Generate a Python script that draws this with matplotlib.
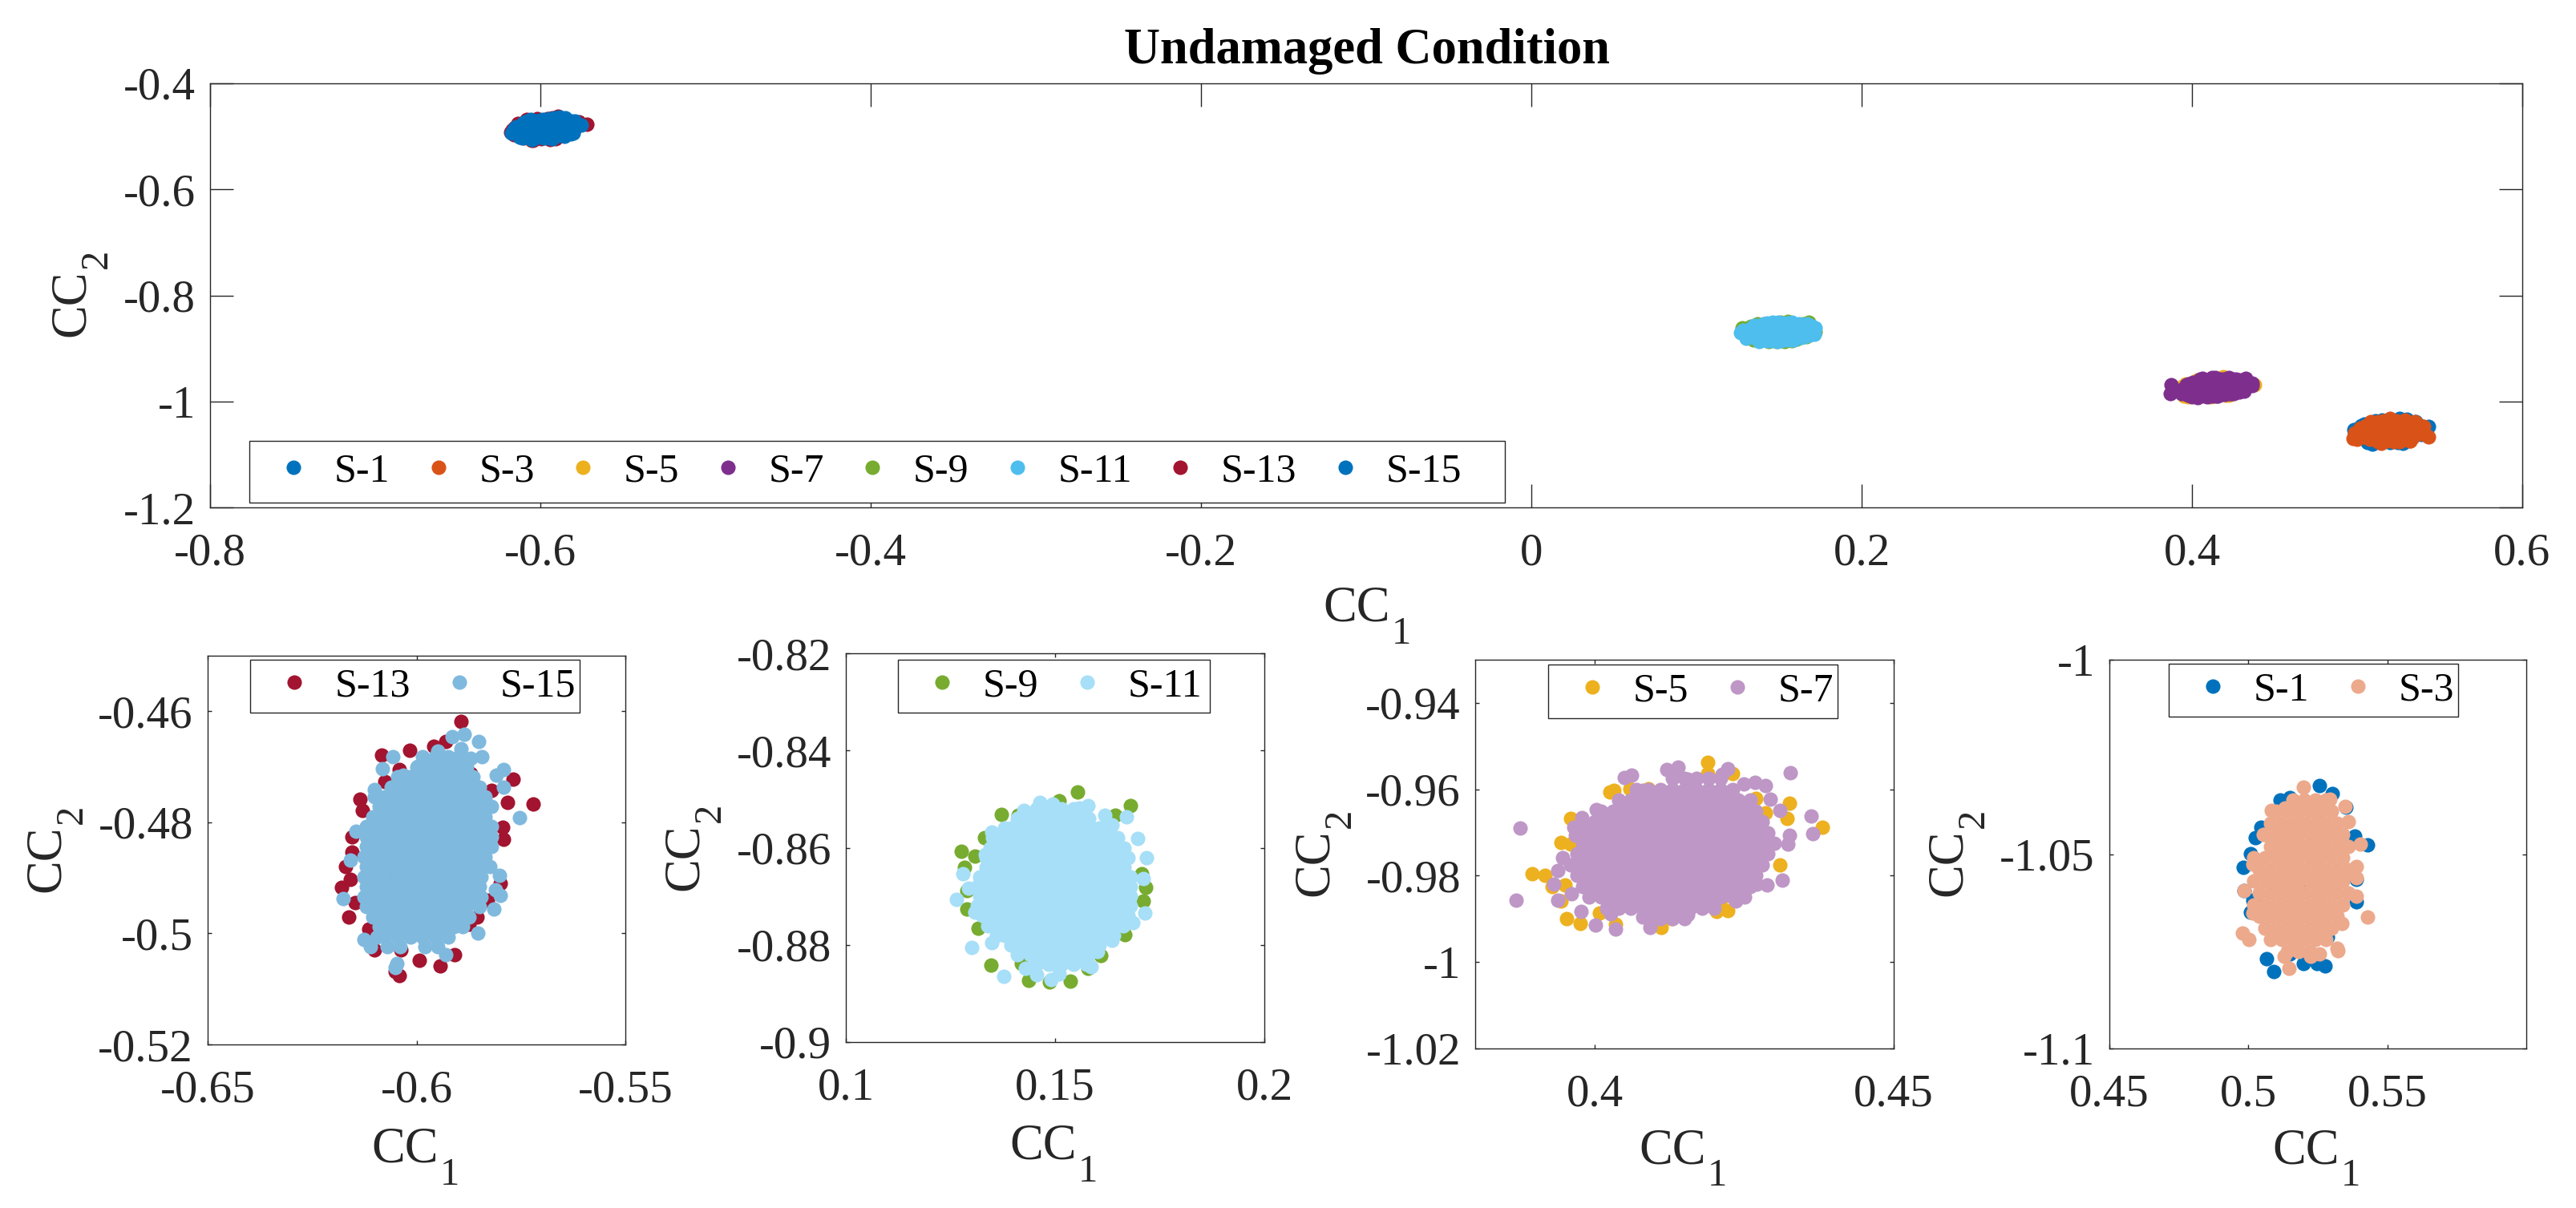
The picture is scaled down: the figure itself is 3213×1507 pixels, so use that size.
import numpy as np
import matplotlib
matplotlib.use('Agg')
import matplotlib.pyplot as plt
from matplotlib.patches import Rectangle

plt.rcParams['font.family'] = ['Liberation Serif', 'DejaVu Serif']
plt.rcParams['axes.unicode_minus'] = False

# values: rows of (CC2, [CC1 ...]) for the dense core, then single points at the rim
s15_rows = [
    (-.4682, [-.5985, -.5955, -.5925, -.590]),
    (-.4700, [-.600, -.597, -.594, -.591, -.588]),
    (-.4718, [-.6045, -.6015, -.5985, -.5955, -.5925, -.5895, -.5865]),
    (-.4736, [-.606, -.603, -.600, -.597, -.594, -.591, -.588, -.585]),
    (-.4754, [-.610, -.6075, -.6045, -.6015, -.5985, -.5955, -.5925, -.5895, -.5865, -.5835]),
    (-.4772, [-.609, -.606, -.603, -.600, -.597, -.594, -.591, -.588, -.585, -.582]),
    (-.4790, [-.6105, -.6075, -.6045, -.6015, -.5985, -.5955, -.5925, -.5895, -.5865, -.5835]),
    (-.4808, [-.612, -.609, -.606, -.603, -.600, -.597, -.594, -.591, -.588, -.585, -.582]),
    (-.4826, [-.612, -.6105, -.6075, -.6045, -.6015, -.5985, -.5955, -.5925, -.5895, -.5865, -.5835, -.582]),
    (-.4844, [-.612, -.609, -.606, -.603, -.600, -.597, -.594, -.591, -.588, -.585, -.582]),
    (-.4862, [-.6125, -.6105, -.6075, -.6045, -.6015, -.5985, -.5955, -.5925, -.5895, -.5865, -.5835]),
    (-.4880, [-.612, -.609, -.606, -.603, -.600, -.597, -.594, -.591, -.588, -.585, -.5825]),
    (-.4898, [-.6125, -.6105, -.6075, -.6045, -.6015, -.5985, -.5955, -.5925, -.5895, -.5865, -.5845]),
    (-.4916, [-.612, -.609, -.606, -.603, -.600, -.597, -.594, -.591, -.588, -.585]),
    (-.4934, [-.6125, -.6105, -.6075, -.6045, -.6015, -.5985, -.5955, -.5925, -.5895, -.5865, -.5845]),
    (-.4952, [-.612, -.609, -.606, -.603, -.600, -.597, -.594, -.591, -.588, -.585]),
    (-.4970, [-.6105, -.6075, -.6045, -.6015, -.5985, -.5955, -.5925, -.5895, -.5875]),
    (-.4988, [-.609, -.606, -.603, -.600, -.597, -.594, -.591, -.589]),
    (-.5006, [-.6095, -.6075, -.6045, -.6015, -.5985, -.5955, -.5925]),
    (-.5024, [-.607, -.604, -.598, -.595]),
]
s15_rim = [(-.5914, -.4646), (-.5885, -.4642), (-.5851, -.4655), (-.5792, -.4705), (-.5809, -.4715), (-.5792, -.4737),
           (-.5753, -.4791), (-.5844, -.4682), (-.5870, -.4685), (-.6056, -.4682), (-.6081, -.4704), (-.6100, -.4741),
           (-.6145, -.4816), (-.6159, -.4868), (-.6176, -.4937), (-.5802, -.4895), (-.5811, -.4922), (-.5799, -.4932),
           (-.5814, -.4956), (-.5854, -.4999), (-.6125, -.5011), (-.6110, -.5024), (-.6047, -.5054), (-.6051, -.5061),
           (-.5929, -.5038), (-.5949, -.4672), (-.5893, -.4668), (-.5998, -.4699), (-.6032, -.4715)]
s13_rows = [(-.480, [-.606, -.592]), (-.485, [-.600]), (-.490, [-.605, -.590]), (-.495, [-.598])]
s13_rim = [(-.5893, -.4618), (-.5958, -.4663), (-.5929, -.4655), (-.6017, -.4671), (-.6083, -.4679), (-.6042, -.4705),
           (-.6076, -.4726), (-.6135, -.4759), (-.6130, -.4779), (-.6154, -.4826), (-.6154, -.4853), (-.6169, -.4880),
           (-.6159, -.4903), (-.6179, -.4917), (-.6146, -.4945), (-.6162, -.4970), (-.6115, -.4992), (-.6100, -.5030),
           (-.6037, -.5030), (-.6051, -.5068), (-.6042, -.5076), (-.5993, -.5048), (-.5944, -.5058), (-.5909, -.5038),
           (-.5875, -.4984), (-.5856, -.4970), (-.5831, -.4940), (-.5800, -.4910), (-.5792, -.4830), (-.5794, -.4809),
           (-.5821, -.4742), (-.5782, -.4764), (-.5720, -.4767), (-.5769, -.4722), (-.5870, -.4712)]

s11_rows = [
    (-.852, [.1455, .1485, .1515, .1545]),
    (-.854, [.141, .144, .147, .150, .153, .156, .158]),
    (-.856, [.138, .1395, .1425, .1455, .1485, .1515, .1545, .1575, .1605, .1625]),
    (-.858, [.135, .138, .141, .144, .147, .150, .153, .156, .159, .162, .165]),
    (-.860, [.1345, .1365, .1395, .1425, .1455, .1485, .1515, .1545, .1575, .1605, .1635, .1665]),
    (-.862, [.1335, .135, .138, .141, .144, .147, .150, .153, .156, .159, .162, .165, .1675]),
    (-.864, [.1335, .1365, .1395, .1425, .1455, .1485, .1515, .1545, .1575, .1605, .1635, .1665]),
    (-.866, [.132, .135, .138, .141, .144, .147, .150, .153, .156, .159, .162, .165, .168]),
    (-.868, [.1315, .1335, .1365, .1395, .1425, .1455, .1485, .1515, .1545, .1575, .1605, .1635, .1665, .168]),
    (-.870, [.132, .135, .138, .141, .144, .147, .150, .153, .156, .159, .162, .165, .168]),
    (-.872, [.1315, .1335, .1365, .1395, .1425, .1455, .1485, .1515, .1545, .1575, .1605, .1635, .1665, .168]),
    (-.874, [.1325, .135, .138, .141, .144, .147, .150, .153, .156, .159, .162, .165, .1675]),
    (-.876, [.134, .1365, .1395, .1425, .1455, .1485, .1515, .1545, .1575, .1605, .1635, .1663]),
    (-.878, [.136, .138, .141, .144, .147, .150, .153, .156, .159, .162, .164]),
    (-.880, [.1395, .1425, .1455, .1485, .1515, .1545, .1575, .1605]),
    (-.882, [.141, .144, .147, .150, .153, .156, .158]),
    (-.884, [.1455, .1485, .1515, .1545, .1575]),
]
s11_rim = [(.1265, -.8707), (.1280, -.8653), (.1301, -.8806), (.1377, -.8864), (.1348, -.8568), (.1426, -.8524),
           (.1463, -.8507), (.1495, -.8510), (.1578, -.8514), (.1558, -.8518), (.1619, -.8534), (.1671, -.8537),
           (.1636, -.8553), (.1698, -.8581), (.1719, -.8620), (.1710, -.8664), (.1715, -.8735), (.1685, -.8755),
           (.1636, -.8791), (.1602, -.8814), (.1587, -.8845), (.1490, -.8839), (.1490, -.8872), (.1456, -.8862),
           (.1429, -.8849), (.1509, -.8860), (.1348, -.8795), (.1294, -.8683), (.1309, -.8733), (.1333, -.8614)]
s9_rows = [(-.860, [.145, .155]), (-.868, [.140, .150, .160]), (-.876, [.145, .155])]
s9_rim = [(.1553, -.8485), (.1680, -.8514), (.1371, -.8531), (.1509, -.8503), (.1412, -.8534), (.1644, -.8534),
          (.1331, -.8580), (.1276, -.8608), (.1309, -.8617), (.1284, -.8641), (.1289, -.8689), (.1289, -.8727),
          (.1316, -.8766), (.1346, -.8841), (.1419, -.8839), (.1436, -.8873), (.1536, -.8874), (.1487, -.8876),
          (.1578, -.8849), (.1609, -.8822), (.1666, -.8779), (.1710, -.8709), (.1717, -.8681), (.1707, -.8653)]

s7_rows = [
    (-.9575, [.413, .415, .417, .419, .421]),
    (-.9600, [.407, .409, .411, .413, .415, .417, .419, .421, .423]),
    (-.9625, [.404, .406, .408, .410, .412, .414, .416, .418, .420, .422, .424, .426]),
    (-.9650, [.401, .403, .405, .407, .409, .411, .413, .415, .417, .419, .421, .423, .425, .427]),
    (-.9675, [.398, .400, .402, .404, .406, .408, .410, .412, .414, .416, .418, .420, .422, .424, .426, .428]),
    (-.9700, [.397, .399, .401, .403, .405, .407, .409, .411, .413, .415, .417, .419, .421, .423, .425, .427, .429]),
    (-.9725, [.398, .400, .402, .404, .406, .408, .410, .412, .414, .416, .418, .420, .422, .424, .426, .428, .430]),
    (-.9750, [.397, .399, .401, .403, .405, .407, .409, .411, .413, .415, .417, .419, .421, .423, .425, .427, .429]),
    (-.9775, [.396, .398, .400, .402, .404, .406, .408, .410, .412, .414, .416, .418, .420, .422, .424, .426, .428]),
    (-.9800, [.397, .399, .401, .403, .405, .407, .409, .411, .413, .415, .417, .419, .421, .423, .425, .427]),
    (-.9825, [.398, .400, .402, .404, .406, .408, .410, .412, .414, .416, .418, .420, .422, .424, .426]),
    (-.9850, [.399, .401, .403, .405, .407, .409, .411, .413, .415, .417, .419, .421, .423, .425]),
    (-.9875, [.402, .404, .406, .408, .410, .412, .414, .416, .418, .420]),
    (-.9900, [.409, .411, .413, .415]),
]
s7_rim = [(.3875, -.9689), (.3868, -.9857), (.4327, -.9562), (.4362, -.9661), (.4365, -.9702), (.4326, -.9706),
          (.4323, -.9727), (.4314, -.9810), (.4288, -.9822), (.4271, -.9820), (.4236, -.9859), (.4035, -.9923),
          (.4001, -.9915), (.4093, -.9920), (.4027, -.9888), (.3977, -.9882), (.3938, -.9857), (.3961, -.9842),
          (.3931, -.9819), (.3938, -.9788), (.3946, -.9759), (.3967, -.9706), (.3965, -.9688), (.3979, -.9665),
          (.4003, -.9647), (.4049, -.9573), (.4061, -.9567), (.4121, -.9555), (.4139, -.9548), (.4222, -.9553),
          (.4213, -.9566), (.4249, -.9587), (.4268, -.9583), (.4285, -.9592), (.4294, -.9622), (.4309, -.9649),
          (.4080, -.9602), (.4155, -.9576), (.4155, -.9891), (.4080, -.9895)]
s5_rows = [(-.970, [.405, .415, .425]), (-.975, [.410, .420]), (-.980, [.405, .415])]
s5_rim = [(.4381, -.9688), (.4189, -.9537), (.4189, -.9563), (.4230, -.9563), (.3895, -.9796), (.3916, -.9800),
          (.3943, -.9723), (.3960, -.9727), (.3960, -.9668), (.4025, -.9606), (.4032, -.9602), (.4270, -.9621),
          (.4325, -.9632), (.4321, -.9668), (.4309, -.9775), (.4251, -.9831), (.4210, -.9857), (.4203, -.9882),
          (.4222, -.9880), (.4111, -.9920), (.4128, -.9900), (.4035, -.9913), (.4008, -.9887), (.3953, -.9900),
          (.3976, -.9911), (.3943, -.9859), (.3950, -.9822), (.3929, -.9826), (.4285, -.9654), (.4059, -.9598),
          (.4090, -.9598)]

s3_rows = [
    (-1.036, [.516, .520, .524, .528]),
    (-1.039, [.510, .514, .518, .522, .526, .530]),
    (-1.042, [.508, .512, .516, .520, .524, .528, .532]),
    (-1.045, [.506, .510, .514, .518, .522, .526, .530, .534]),
    (-1.048, [.508, .512, .516, .520, .524, .528, .532, .536]),
    (-1.051, [.502, .506, .510, .514, .518, .522, .526, .530, .534]),
    (-1.054, [.504, .508, .512, .516, .520, .524, .528, .532, .536]),
    (-1.057, [.502, .506, .510, .514, .518, .522, .526, .530, .534]),
    (-1.060, [.504, .508, .512, .516, .520, .524, .528, .532, .536]),
    (-1.063, [.502, .506, .510, .514, .518, .522, .526, .530, .534]),
    (-1.066, [.504, .508, .512, .516, .520, .524, .528, .532]),
    (-1.069, [.506, .510, .514, .518, .522, .526, .530]),
    (-1.072, [.508, .512, .516, .520, .524, .528]),
    (-1.075, [.514, .518, .522]),
]
s3_rim = [(.5198, -1.0328), (.5292, -1.0358), (.5349, -1.0378), (.5083, -1.0387), (.5132, -1.0382), (.5188, -1.0368),
          (.5053, -1.0450), (.5404, -1.0474), (.5389, -1.0531), (.5389, -1.0560), (.5389, -1.0608), (.5430, -1.0662),
          (.4986, -1.0594), (.5016, -1.0651), (.5337, -1.0678), (.4978, -1.0704), (.5001, -1.0719), (.5319, -1.0743),
          (.5322, -1.0749), (.5146, -1.0793), (.5128, -1.0762), (.5225, -1.0762), (.5255, -1.0757), (.5016, -1.0526),
          (.5360, -1.0416)]
s1_rows = [(-1.050, [.515, .525]), (-1.057, [.510, .520, .530]), (-1.065, [.515, .525])]
s1_rim = [(.5255, -1.0323), (.5303, -1.0344), (.5113, -1.0361), (.5150, -1.0354), (.5352, -1.0379), (.5046, -1.0430),
          (.5026, -1.0457), (.5008, -1.0498), (.4983, -1.0534), (.4986, -1.0594), (.5008, -1.0649), (.5430, -1.0476),
          (.5389, -1.0622), (.5389, -1.0565), (.5064, -1.0769), (.5090, -1.0803), (.5198, -1.0781), (.5247, -1.0781),
          (.5277, -1.0788), (.5285, -1.0714), (.5150, -1.0757), (.5382, -1.0454), (.5016, -1.0618)]

# colours of the big panel and the lighter ones of the small panels
c_s1, c_s3, c_s5, c_s7 = '#0072BD', '#D95319', '#EDB120', '#7E2F8E'
c_s9, c_s11, c_s13, c_s15 = '#77AC30', '#4DBEEE', '#A2142F', '#0072BD'
light_s15, light_s11, light_s7, light_s3 = '#80B9DE', '#A6DFF7', '#BE97C6', '#ECA98C'

top_xticks = [-.8, -.6, -.4, -.2, 0, .2, .4, .6]
top_xlabels = ['-0.8', '-0.6', '-0.4', '-0.2', '0', '0.2', '0.4', '0.6']
top_yticks = [-1.2, -1, -.8, -.6, -.4]
top_ylabels = ['-1.2', '-1', '-0.8', '-0.6', '-0.4']

W, H = 3213, 1507
DARK = '#262626'
MARKER = 170


def points(rows, rim):
    xs = [x for y, row in rows for x in row] + [p[0] for p in rim]
    ys = [y for y, row in rows for x in row] + [p[1] for p in rim]
    return np.array(xs), np.array(ys)


def make_axes(left, right, top, bottom):
    # box given in pixels of the final image
    return fig.add_axes([left / W, 1 - bottom / H, (right - left) / W, (bottom - top) / H])


def style(ax, xlim, ylim, xticks, xlabels, yticks, ylabels, ticklen):
    ax.set_xlim(xlim)
    ax.set_ylim(ylim)
    ax.set_xticks(xticks, xlabels)
    ax.set_yticks(yticks, ylabels)
    ax.tick_params(axis='both', direction='in', top=True, right=True, length=ticklen, width=1,
                   color=DARK, labelcolor=DARK, labelsize=41)
    ax.tick_params(axis='x', pad=23)
    ax.tick_params(axis='y', pad=13)
    for s in ax.spines.values():
        s.set_linewidth(1)
        s.set_color(DARK)


def legend(ax, ncol, left, right, top, bottom):
    # the frame is wider than the entries, so it is drawn apart
    ax.add_patch(Rectangle((left / W, 1 - bottom / H), (right - left) / W, (bottom - top) / H,
                           transform=fig.transFigure, facecolor='white', edgecolor=DARK, linewidth=1,
                           zorder=4, clip_on=False))
    leg = ax.legend(loc='center left', bbox_to_anchor=(left / W, 1 - (top + bottom) / 2 / H),
                    bbox_transform=fig.transFigure, ncol=ncol, frameon=False,
                    borderaxespad=0, borderpad=0.3, handlelength=1.6, handletextpad=0.22, columnspacing=0.4,
                    scatterpoints=1, scatteryoffsets=[0.5], fontsize=36, labelcolor='black')
    leg.set_zorder(5)


def label(digit, x, y, vertical=False):
    # CC with a large, low subscript; x, y is the middle of the whole label
    if vertical:
        fig.text((x + 7) / W, 1 - (y + 11.5) / H, 'CC', fontsize=45, color=DARK, rotation=90,
                 rotation_mode='anchor', ha='center', va='baseline')
        fig.text((x + 35) / W, 1 - (y - 44) / H, digit, fontsize=35, color=DARK, rotation=90,
                 rotation_mode='anchor', ha='center', va='baseline')
    else:
        fig.text((x - 11.5) / W, 1 - (y + 7) / H, 'CC', fontsize=45, color=DARK, ha='center', va='baseline')
        fig.text((x + 44) / W, 1 - (y + 35) / H, digit, fontsize=35, color=DARK, ha='center', va='baseline')


fig = plt.figure(figsize=(W / 100, H / 100), dpi=100)

series = [
    ('S-1', points(s1_rows, s1_rim), c_s1), ('S-3', points(s3_rows, s3_rim), c_s3),
    ('S-5', points(s5_rows, s5_rim), c_s5), ('S-7', points(s7_rows, s7_rim), c_s7),
    ('S-9', points(s9_rows, s9_rim), c_s9), ('S-11', points(s11_rows, s11_rim), c_s11),
    ('S-13', points(s13_rows, s13_rim), c_s13), ('S-15', points(s15_rows, s15_rim), c_s15),
]

# big panel with all the sensors
ax = make_axes(262, 3146, 104, 633)
for name, (x, y), c in series:
    ax.scatter(x, y, s=MARKER, color=c, linewidths=0, label=name)
style(ax, (-.8, .6), (-1.2, -.4), top_xticks, top_xlabels, top_yticks, top_ylabels, 21)
legend(ax, 8, 311, 1877, 550, 627)
fig.text(1705 / W, 1 - 64 / H, 'Undamaged Condition', fontsize=45, fontweight='bold', color='black',
         ha='center', va='center')
label('1', 1704, 768)
label('2', 98, 367, vertical=True)

# small panels, one pair of sensors each
ax = make_axes(259, 780, 818, 1303)
ax.scatter(*points(s13_rows, s13_rim), s=MARKER, color=c_s13, linewidths=0, label='S-13')
ax.scatter(*points(s15_rows, s15_rim), s=MARKER, color=light_s15, linewidths=0, label='S-15')
style(ax, (-.65, -.55), (-.52, -.45), [-.65, -.6, -.55], ['-0.65', '-0.6', '-0.55'],
      [-.52, -.5, -.48, -.46], ['-0.52', '-0.5', '-0.48', '-0.46'], 3.6)
legend(ax, 2, 312, 723, 823, 889)
label('1', 517, 1443)
label('2', 67, 1060, vertical=True)

ax = make_axes(1055, 1577, 815, 1300)
ax.scatter(*points(s9_rows, s9_rim), s=MARKER, color=c_s9, linewidths=0, label='S-9')
ax.scatter(*points(s11_rows, s11_rim), s=MARKER, color=light_s11, linewidths=0, label='S-11')
style(ax, (.1, .2), (-.9, -.82), [.1, .15, .2], ['0.1', '0.15', '0.2'],
      [-.9, -.88, -.86, -.84, -.82], ['-0.9', '-0.88', '-0.86', '-0.84', '-0.82'], 3.6)
legend(ax, 2, 1120, 1509, 823, 889)
label('1', 1313, 1439)
label('2', 863, 1058, vertical=True)

ax = make_axes(1840, 2362, 823, 1308)
ax.scatter(*points(s5_rows, s5_rim), s=MARKER, color=c_s5, linewidths=0, label='S-5')
ax.scatter(*points(s7_rows, s7_rim), s=MARKER, color=light_s7, linewidths=0, label='S-7')
style(ax, (.38, .45), (-1.02, -.93), [.4, .45], ['0.4', '0.45'],
      [-1.02, -1, -.98, -.96, -.94], ['-1.02', '-1', '-0.98', '-0.96', '-0.94'], 3.6)
legend(ax, 2, 1931, 2292, 829, 896)
label('1', 2098, 1444)
label('2', 1649, 1065, vertical=True)

ax = make_axes(2631, 3151, 823, 1308)
ax.scatter(*points(s1_rows, s1_rim), s=MARKER, color=c_s1, linewidths=0, label='S-1')
ax.scatter(*points(s3_rows, s3_rim), s=MARKER, color=light_s3, linewidths=0, label='S-3')
style(ax, (.45, .6), (-1.1, -1), [.45, .5, .55], ['0.45', '0.5', '0.55'],
      [-1.1, -1.05, -1], ['-1.1', '-1.05', '-1'], 3.6)
legend(ax, 2, 2705, 3066, 828, 894)
label('1', 2888, 1444)
label('2', 2439, 1065, vertical=True)

fig.savefig('out.png', dpi=100)
